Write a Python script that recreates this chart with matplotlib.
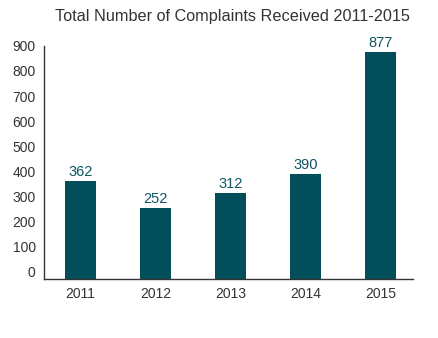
import numpy as np
import matplotlib.pyplot as plt

years = ['2011', '2012', '2013', '2014', '2015']
complaints = [362, 252, 312, 390, 877]
yticks = [0, 100, 200, 300, 400, 500, 600, 700, 800, 900]

plt.rcParams['font.family'] = ['Liberation Sans', 'DejaVu Sans']

bar_color = '#034e5b'
text_gray = '#333333'
ymin = -30  # baseline sits a bit below zero in the original

fig = plt.figure(figsize=(4.39, 3.38), dpi=100)
ax = fig.add_axes([0.1002, 0.1746, 0.8406, 0.6896])

x = np.arange(len(years))
vals = np.array(complaints)
ax.bar(x, vals - ymin, bottom=ymin, width=0.41, color=bar_color)

for xi, v in zip(x, complaints):
    ax.annotate(str(v), (xi, v), xytext=(0, 1.5), textcoords='offset points',
                ha='center', va='bottom', fontsize=10.5, color='#0f5563')

ax.set_xlim(-0.487, 4.43)
ax.set_ylim(ymin, 900)
ax.set_xticks(x)
ax.set_xticklabels(years, fontsize=10, color=text_gray)
ax.set_yticks(yticks)
ax.set_yticklabels([str(t) for t in yticks], fontsize=10, color=text_gray)
ax.tick_params(axis='both', length=0)
ax.tick_params(axis='x', pad=6)
ax.tick_params(axis='y', pad=6)

for side in ['top', 'right']:
    ax.spines[side].set_visible(False)
for side in ['left', 'bottom']:
    ax.spines[side].set_color('#333333')
    ax.spines[side].set_linewidth(1.0)

fig.text(0.53, 0.95, 'Total Number of Complaints Received 2011-2015',
         ha='center', va='center', fontsize=11.7, color=text_gray)

fig.savefig('out.png', dpi=100)
